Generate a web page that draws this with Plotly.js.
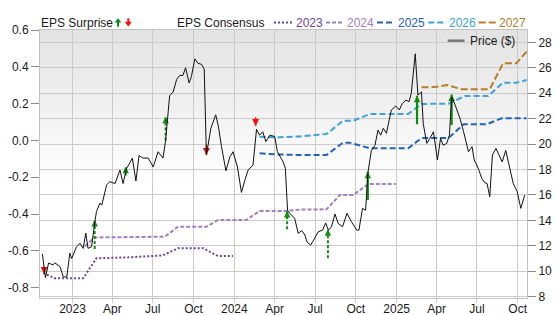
<!DOCTYPE html>
<html><head><meta charset="utf-8">
<script src="https://cdn.plot.ly/plotly-3.0.1.min.js"></script>
<style>
html,body{margin:0;padding:0;background:#fff;}
#wrap{position:relative;width:556px;height:315px;overflow:hidden;}
#bg{position:absolute;left:40px;top:30px;width:487px;height:268px;background:linear-gradient(to bottom,#e3e3e3 0%,#f1f1f1 30%,#fbfbfb 48%,#ffffff 60%,#ffffff 100%);}
#chart{position:absolute;left:0;top:0;width:556px;height:315px;}
</style></head><body>
<div id="wrap"><div id="bg"></div><div id="chart"></div></div>
<script>
// ---------- DATA ----------
const priceDates = ['2022-10-25','2022-11-01','2022-11-08','2022-11-18','2022-11-22','2022-12-04','2022-12-11','2022-12-19','2022-12-26','2022-12-30',
'2023-01-10','2023-01-18','2023-01-25','2023-01-31','2023-02-05','2023-02-13','2023-02-20','2023-02-24','2023-03-04','2023-03-08',
'2023-03-19','2023-03-26','2023-04-07','2023-04-18','2023-04-25','2023-05-03','2023-05-10','2023-05-16','2023-05-24','2023-05-31',
'2023-06-09','2023-06-21','2023-07-02','2023-07-13','2023-07-24','2023-07-30','2023-08-08','2023-08-16','2023-08-24','2023-08-31',
'2023-09-07','2023-09-13','2023-09-21','2023-09-26','2023-10-04','2023-10-11','2023-10-19','2023-10-25','2023-10-30','2023-11-09',
'2023-11-20','2023-11-26','2023-12-03','2023-12-13','2023-12-22','2023-12-29','2024-01-08','2024-01-17','2024-01-25','2024-02-01',
'2024-02-12','2024-02-20','2024-02-27','2024-03-05','2024-03-12','2024-03-21','2024-04-01','2024-04-07','2024-04-20','2024-04-25',
'2024-04-30','2024-05-05','2024-05-16','2024-05-24','2024-06-01','2024-06-08','2024-06-13','2024-06-21','2024-06-28','2024-07-08',
'2024-07-18','2024-07-25','2024-07-31','2024-08-07','2024-08-15','2024-08-22','2024-09-01','2024-09-11','2024-09-21','2024-10-03',
'2024-10-08','2024-10-16','2024-10-23','2024-10-28','2024-11-05','2024-11-13','2024-11-20','2024-11-26','2024-12-02','2024-12-09',
'2024-12-20','2024-12-30','2025-01-07','2025-01-14','2025-01-22','2025-01-29','2025-02-03','2025-02-12','2025-02-18','2025-02-26',
'2025-03-02','2025-03-10','2025-03-17','2025-03-25','2025-04-03','2025-04-10','2025-04-16','2025-04-24','2025-04-30','2025-05-05',
'2025-05-13','2025-05-24','2025-06-01','2025-06-12','2025-06-20','2025-06-25','2025-07-04','2025-07-12','2025-07-19','2025-07-24',
'2025-07-30','2025-08-05','2025-08-13','2025-08-20','2025-08-27','2025-09-04','2025-09-13','2025-09-21','2025-09-30','2025-10-08','2025-10-17'];
const priceValues = [11.36,9.5,10.65,10.5,10.67,10.36,9.57,9.55,11.43,11.0,
11.93,12.2,11.8,13.0,11.8,11.93,13.8,14.7,15.37,15.2,
16.8,17.04,16.9,17.96,16.9,18.1,18.5,18.9,17.1,19.1,
18.9,18.9,18.2,19.4,18.9,20.3,23.8,24.1,25.1,25.4,
25.4,26.0,24.8,25.3,26.7,26.35,26.27,25.9,19.14,21.24,
22.3,21.4,19.8,17.9,19.0,19.4,18.2,16.2,17.2,17.96,
18.35,21.16,20.7,20.97,20.2,20.7,20.6,19.4,18.6,18.1,
14.8,14.56,14.16,12.98,13.2,12.85,12.3,12.06,12.46,13.1,
13.24,13.8,13.24,13.5,14.5,13.77,13.5,14.56,13.9,13.24,
13.24,14.95,14.8,17.7,19.5,19.9,21.1,20.7,21.24,20.85,
22.68,23.0,22.68,23.2,23.46,23.33,24.0,27.1,23.85,24.1,
21.6,20.06,20.45,20.97,18.75,20.45,19.9,20.06,20.7,23.7,
23.07,22.0,20.97,19.4,19.8,18.75,18.1,17.3,16.96,16.9,
15.86,19.14,19.66,19.14,18.6,19.5,18.2,16.9,16.25,14.95,16.0];

const cons2023Dates = ['2022-10-27','2022-11-22','2023-01-25','2023-02-24','2023-05-10','2023-07-24','2023-08-27','2023-10-23','2023-11-25','2023-12-29'];
const cons2023Values = [-0.72,-0.749,-0.749,-0.64,-0.635,-0.624,-0.586,-0.586,-0.628,-0.628];
const cons2024Dates = ['2023-01-29','2023-02-20','2023-07-28','2023-08-27','2023-10-30','2023-11-25','2024-01-28','2024-02-27','2024-04-24','2024-05-27','2024-07-27','2024-08-26','2024-09-25','2024-10-29','2024-12-30'];
const cons2024Values = [-0.575,-0.527,-0.523,-0.469,-0.469,-0.432,-0.432,-0.383,-0.383,-0.376,-0.374,-0.296,-0.296,-0.237,-0.237];
const cons2025Dates = ['2024-02-27','2024-04-04','2024-05-27','2024-07-27','2024-09-02','2024-09-17','2024-11-02','2025-01-27','2025-02-26','2025-04-28','2025-06-01','2025-07-23','2025-08-26','2025-10-21'];
const cons2025Values = [-0.07,-0.076,-0.079,-0.079,-0.012,-0.012,-0.043,-0.043,0.013,0.013,0.088,0.088,0.12,0.12];
const cons2026Dates = ['2024-02-27','2024-04-12','2024-05-27','2024-07-27','2024-09-02','2024-09-25','2024-11-02','2025-01-27','2025-02-26','2025-04-28','2025-06-04','2025-07-26','2025-08-29','2025-09-28','2025-10-21'];
const cons2026Values = [0.02,0.017,0.022,0.035,0.107,0.107,0.144,0.144,0.198,0.2,0.241,0.241,0.314,0.314,0.328];
const cons2027Dates = ['2025-02-26','2025-03-28','2025-04-24','2025-05-28','2025-07-30','2025-08-29','2025-09-28','2025-10-21'];
const cons2027Values = [0.289,0.29,0.301,0.278,0.278,0.419,0.419,0.482];

const surpriseDates = ['2022-10-29','2023-02-20','2023-05-01','2023-07-30','2023-10-30','2024-02-18','2024-04-29','2024-07-30','2024-10-28','2025-02-16','2025-05-05'];
const surpriseEstimate = [-0.686,-0.59,-0.19,0.0,-0.025,0.126,-0.483,-0.64,-0.324,0.088,0.084];
const surpriseActual = [-0.726,-0.432,-0.143,0.129,-0.079,0.079,-0.383,-0.483,-0.17,0.243,0.25];

const xTickVals = ['2023-01-01','2023-04-01','2023-07-01','2023-10-01','2024-01-01','2024-04-01','2024-07-01','2024-10-01','2025-01-01','2025-04-01','2025-07-01','2025-10-01'];
const xTickText = ['2023','Apr','Jul','Oct','2024','Apr','Jul','Oct','2025','Apr','Jul','Oct'];
const epsTickVals = [-0.8,-0.6,-0.4,-0.2,0.0,0.2,0.4,0.6];
const epsTickText = ['-0.8','-0.6','-0.4','-0.2','0.0','0.2','0.4','0.6'];
const priceTickVals = [8,10,12,14,16,18,20,22,24,26,28];
const seriesNames = ['2023','2024','2025','2026','2027'];

// ---------- STYLE ----------
const colors = {'2023':'#6f4394','2024':'#a27ec2','2025':'#2263b3','2026':'#3ea2d6','2027':'#b47e2e'};
const dashes = {'2023':'2px,2px','2024':'4px,2px','2025':'6px,3px','2026':'6px,3px','2027':'7px,3px'};
const GREEN = '#128a12', RED = '#f01010';
const FONT = 'Liberation Sans, Arial, Helvetica, sans-serif';

const W=556,H=315,L=40,R=29,T=30,B=17;
const pw=W-L-R, ph=H-T-B;
const px = x => (x-L)/pw;
const py = y => (H-B-y)/ph;

const consData = {
  '2023':[cons2023Dates,cons2023Values],'2024':[cons2024Dates,cons2024Values],
  '2025':[cons2025Dates,cons2025Values],'2026':[cons2026Dates,cons2026Values],
  '2027':[cons2027Dates,cons2027Values]
};

const traces = [];
seriesNames.forEach(n => {
  traces.push({x:consData[n][0], y:consData[n][1], type:'scatter', mode:'lines', yaxis:'y',
    line:{color:colors[n], width:2, dash:dashes[n]}, hoverinfo:'skip'});
});
traces.push({x:priceDates, y:priceValues, type:'scatter', mode:'lines', yaxis:'y2',
  line:{color:'#111', width:1}, hoverinfo:'skip'});

// surprise arrows
const dX=[],dY=[],sX=[],sY=[],rX=[],rY=[],gHX=[],gHY=[],rHX=[],rHY=[];
surpriseDates.forEach((d,i)=>{
  const e=surpriseEstimate[i], a=surpriseActual[i];
  if (a>=e) {
    const dashed = d < '2024-09-01';
    (dashed?dX:sX).push(d,d,null); (dashed?dY:sY).push(e,a,null);
    gHX.push(d); gHY.push(a);
  } else {
    rX.push(d,d,null); rY.push(e,a,null);
    rHX.push(d); rHY.push(a);
  }
});
traces.push({x:dX,y:dY,type:'scatter',mode:'lines',line:{color:GREEN,width:2,dash:'3px,2px'},hoverinfo:'skip'});
traces.push({x:sX,y:sY,type:'scatter',mode:'lines',line:{color:GREEN,width:2.2},hoverinfo:'skip'});
traces.push({x:rX,y:rY,type:'scatter',mode:'lines',line:{color:RED,width:1.5},hoverinfo:'skip'});
traces.push({x:gHX,y:gHY,type:'scatter',mode:'markers',marker:{symbol:'arrow-up',size:6.5,color:GREEN,line:{width:0}},hoverinfo:'skip'});
traces.push({x:rHX,y:rHY,type:'scatter',mode:'markers',marker:{symbol:'arrow-down',size:7,color:RED,line:{width:0}},hoverinfo:'skip'});

// ---------- legend (annotations + shapes) ----------
const annotations = [];
const shapes = [];
function txt(t,x,y,color){
  annotations.push({text:t, xref:'paper', yref:'paper', x:px(x), y:py(y), xanchor:'left', yanchor:'middle',
    showarrow:false, font:{family:FONT,size:12,color:color||'#1a1a1a'}, borderpad:0, borderwidth:0});
}
function seg(x0,y0,x1,y1,color,width,dash){
  shapes.push({type:'line', xref:'paper', yref:'paper', x0:px(x0), y0:py(y0), x1:px(x1), y1:py(y1),
    line:{color:color,width:width,dash:dash||'solid'}});
}
function tri(pts,color){
  const p = pts.map((q,i)=>(i?'L':'M')+px(q[0]).toFixed(5)+','+py(q[1]).toFixed(5)).join('')+'Z';
  shapes.push({type:'path', xref:'paper', yref:'paper', path:p, fillcolor:color, line:{width:0}});
}
const LY = 22.5;
txt('EPS Surprise', 40.5, LY+0.5);
seg(118,22,118,26.7,GREEN,2); tri([[114.6,22.6],[118,18.3],[121.4,22.6]],GREEN);
seg(128.3,18.3,128.3,22.2,RED,2); tri([[124.7,21.8],[131.9,21.8],[128.3,26.5]],RED);
txt('EPS Consensus', 177.3, LY+0.5);
const legX = {'2023':[274,292.7,296],'2024':[326,342.7,347],'2025':[377,394.3,397.7],'2026':[428.3,446,448.7],'2027':[478.7,497,499.3]};
seriesNames.forEach(n=>{
  const v=legX[n];
  seg(v[0],LY,v[1],LY,colors[n],2,dashes[n]);
  txt(n, v[2], LY+0.5, colors[n]);
});
seg(447.7,40.7,464.5,40.7,'#777',2.5);
txt('Price ($)', 470.3, 41);

const layout = {
  width:W, height:H, margin:{l:L,r:R,t:T,b:B,pad:0},
  paper_bgcolor:'rgba(0,0,0,0)', plot_bgcolor:'rgba(0,0,0,0)',
  showlegend:false, font:{family:FONT,size:12,color:'#1a1a1a'},
  xaxis:{type:'date', range:['2022-10-19 16:00','2025-10-22'], tickvals:xTickVals, ticktext:xTickText,
    showgrid:true, gridcolor:'#cbcbcb', gridwidth:1, ticks:'outside', ticklen:4, tickcolor:'#cbcbcb',
    ticklabelstandoff:-4,
    showline:true, linecolor:'#c2c2c2', mirror:true, zeroline:false, tickfont:{size:12}},
  yaxis:{range:[-0.856,0.6], tickvals:epsTickVals, ticktext:epsTickText, showgrid:false, zeroline:false,
    ticks:'outside', ticklen:8, tickcolor:'#8a8a8a', showline:true, linecolor:'#c2c2c2', tickfont:{size:12}},
  yaxis2:{range:[7.9,28.97], overlaying:'y', side:'right', tickvals:priceTickVals, showgrid:true,
    gridcolor:'#cbcbcb', gridwidth:1, zeroline:false, ticks:'outside', ticklen:8, tickcolor:'#8a8a8a',
    showline:true, linecolor:'#c2c2c2', tickfont:{size:12}},
  annotations:annotations, shapes:shapes
};
Plotly.newPlot('chart', traces, layout, {staticPlot:true, displayModeBar:false});
</script>
</body></html>
